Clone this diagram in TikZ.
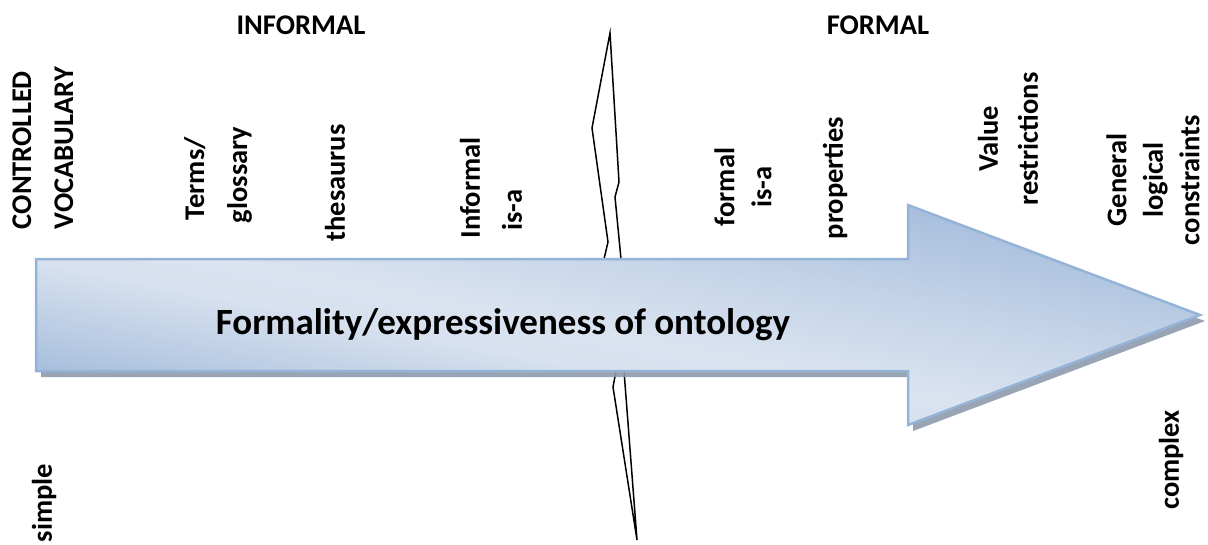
\documentclass[tikz,border=0pt]{standalone}
\usepackage{fontspec}
\setmainfont{Carlito}
\definecolor{arrowline}{HTML}{95B3D7}
\definecolor{shadowcol}{HTML}{8E9BAD}
\definecolor{blueA}{HTML}{A6BEDC}
\definecolor{blueB}{HTML}{D7E1EF}
\definecolor{blueC}{HTML}{DAE3F0}
\definecolor{blueD}{HTML}{C6D5E9}
% dark - light - dark band running diagonally across the arrow
\pgfdeclareverticalshading{arrowfill}{100bp}{color(0bp)=(blueA); color(44bp)=(blueA); color(47.9bp)=(blueB); color(49.3bp)=(blueC); color(52.1bp)=(blueD); color(56bp)=(blueA); color(100bp)=(blueA)}
\tikzset{
  lbl/.style={font=\bfseries\fontsize{28.5}{40}\selectfont, inner sep=0pt, align=center},
  vlbl/.style={lbl, rotate=90},
  brk/.style={draw=black, line width=1.5pt, line join=miter},
  arrowpath/.style={line width=2.5pt, draw=arrowline, line join=miter},
}
\begin{document}
\begin{tikzpicture}[x=1pt, y=-1pt]
\useasboundingbox (0,0) rectangle (1208,544);

% break mark crossing the arrow
\coordinate (t0) at (604,259);
\coordinate (t1) at (608,242);
\coordinate (t2) at (592,128);
\coordinate (t3) at (610,33);
\coordinate (t4) at (619,182);
\coordinate (t5) at (615,197);
\coordinate (t6) at (621,259);
\coordinate (b0) at (616,371);
\coordinate (b1) at (613,387);
\coordinate (b2) at (637,540);
\coordinate (b3) at (624,371);
\draw[brk] (t0) -- (t1) -- (t2) -- (t3) -- (t4) -- (t5) -- (t6);
\draw[brk] (b0) -- (b1) -- (b2) -- (b3);

% arrow: shadow, gradient fill, outline
\def\arrowshape{(36,259) -- (908,259) -- (908,205) -- (1200,315) -- (908,425) -- (908,371) -- (36,371) -- cycle}
\fill[shadowcol, opacity=0.9, shift={(5pt,-6pt)}] \arrowshape;
\begin{scope}
  \clip \arrowshape;
  \shade[shading=arrowfill, shading angle=-11] (-82,-385) rectangle (1318,1015);
\end{scope}
\draw[arrowpath] \arrowshape;

\node[lbl, font=\bfseries\fontsize{37}{44}\selectfont] (title) at (503,325) {Formality/expressiveness of ontology};

\node[lbl] (informal) at (301,25) {INFORMAL};
\node[lbl] (formal) at (878,25) {FORMAL};

\node[vlbl, align=left, font=\bfseries\fontsize{28.5}{42}\selectfont] (cv) at (43,148) {CONTROLLED\\VOCABULARY};
\node[vlbl, align=left, font=\bfseries\fontsize{28.5}{43}\selectfont] (terms) at (218,175) {\hspace*{3pt}Terms/\\glossary};
\node[vlbl] (thes) at (335,183) {thesaurus};
\node[vlbl, align=left, font=\bfseries\fontsize{28.5}{42}\selectfont] (infisa) at (491,188) {Informal\\\hspace*{8pt}is-a};
\node[vlbl, font=\bfseries\fontsize{28.5}{37}\selectfont] (formisa) at (743,187) {formal\\is-a};
\node[vlbl] (props) at (835,178) {properties};
\node[vlbl, font=\bfseries\fontsize{28.5}{40}\selectfont] (valres) at (1008,139) {Value\\restrictions};
\node[vlbl, font=\bfseries\fontsize{28.5}{36.5}\selectfont] (glc) at (1153,180) {General\\logical\\constraints};

\node[vlbl] (simple) at (44,503) {simple};
\node[vlbl] (complex) at (1171,460) {complex};
\end{tikzpicture}
\end{document}
